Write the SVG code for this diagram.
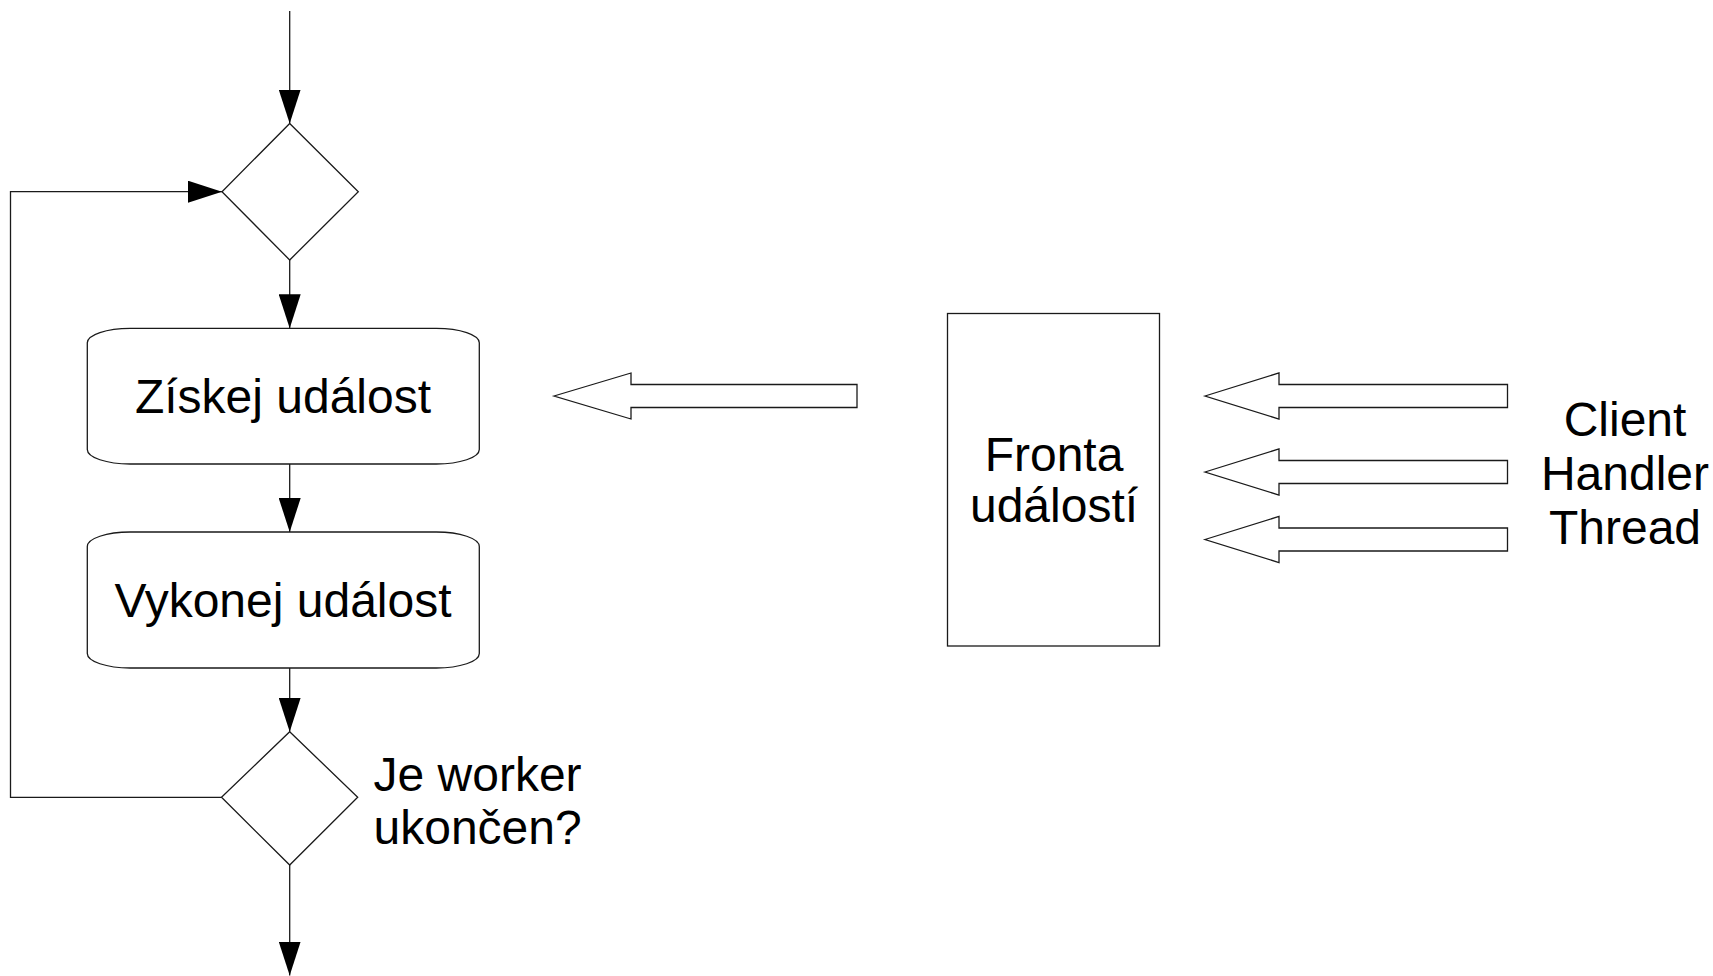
<svg xmlns="http://www.w3.org/2000/svg" width="1713" height="976" viewBox="0 0 1713 976">
  <style>
    .shape { fill: #ffffff; stroke: #1a1a1a; stroke-width: 1.3; }
    .conn { fill: none; stroke: #1a1a1a; stroke-width: 1.3; }
    .lbl { font-family: "Liberation Sans", Arial, sans-serif; font-size: 48px; fill: #000000; }
    .mid { text-anchor: middle; }
  </style>
  <defs>
    <marker id="arr" markerUnits="userSpaceOnUse" markerWidth="34" markerHeight="22" refX="34" refY="11" orient="auto" viewBox="0 0 34 22">
      <path d="M0,0 L34,11 L0,22 Z" fill="#000000"/>
    </marker>
  </defs>
  <rect x="0" y="0" width="1713" height="976" fill="#ffffff"/>

  <g id="connectors">
    <path class="conn" d="M289.7,11 V123.5" marker-end="url(#arr)"/>
    <path class="conn" d="M289.7,260 V328.3" marker-end="url(#arr)"/>
    <path class="conn" d="M289.7,464 V532" marker-end="url(#arr)"/>
    <path class="conn" d="M289.7,668 V731.7" marker-end="url(#arr)"/>
    <path class="conn" d="M289.7,865 V975.5" marker-end="url(#arr)"/>
    <path class="conn" d="M221.5,797.3 H10.5 V191.7 H222" marker-end="url(#arr)"/>
  </g>

  <g id="decision1">
    <polygon class="shape" points="289.7,123.5 358.3,191.7 289.7,260 222,191.7"/>
  </g>

  <g id="ziskej">
    <rect class="shape" x="87.3" y="328.3" width="392" height="135.7" rx="43" ry="14.5"/>
    <text class="lbl mid" x="283" y="413">Získej událost</text>
  </g>

  <g id="vykonej">
    <rect class="shape" x="87.3" y="532" width="392" height="136" rx="43" ry="14.5"/>
    <text class="lbl mid" x="283" y="617">Vykonej událost</text>
  </g>

  <g id="decision2">
    <polygon class="shape" points="289.7,731.7 357.7,797.3 289.7,865 221.5,797.3"/>
    <text class="lbl" x="373.5" y="791">Je worker</text>
    <text class="lbl" x="373.5" y="843.5">ukončen?</text>
  </g>

  <g id="arrow-to-worker">
    <polygon class="shape" points="554,396 631,373 631,384.5 857,384.5 857,407.5 631,407.5 631,419"/>
  </g>

  <g id="fronta">
    <rect class="shape" x="947.5" y="313.5" width="212" height="332.5"/>
    <text class="lbl mid" x="1054" y="471">Fronta</text>
    <text class="lbl mid" x="1054" y="522">událostí</text>
  </g>

  <g id="client-arrows">
    <polygon class="shape" points="1205,396 1279,373 1279,384.5 1507.5,384.5 1507.5,407.5 1279,407.5 1279,419"/>
    <polygon class="shape" points="1205,472 1279,449 1279,460.5 1507.5,460.5 1507.5,483.5 1279,483.5 1279,495"/>
    <polygon class="shape" points="1205,539.5 1279,516.5 1279,528 1507.5,528 1507.5,551 1279,551 1279,562.5"/>
  </g>

  <g id="client-handler">
    <text class="lbl mid" x="1625" y="436">Client</text>
    <text class="lbl mid" x="1625" y="490">Handler</text>
    <text class="lbl mid" x="1625" y="544">Thread</text>
  </g>
</svg>
